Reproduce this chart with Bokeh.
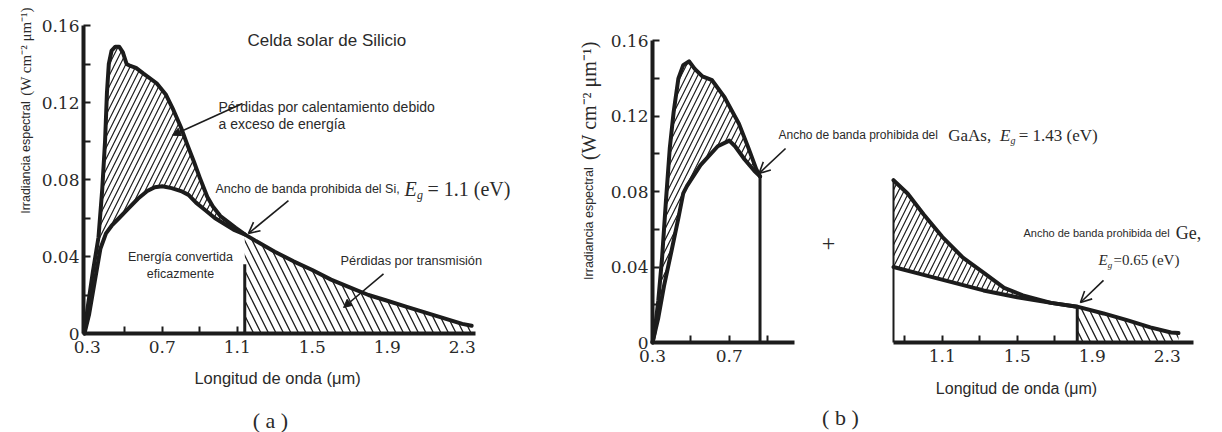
import math

from bokeh.embed import file_html
from bokeh.models import (Arrow, FixedTicker, Label, LinearAxis, NormalHead,
                          OpenHead, Range1d)
from bokeh.plotting import figure
from bokeh.resources import INLINE

# ---------------------------------------------------------------------------
# Spectral irradiance (W cm^-2 um^-1) against wavelength (um)
# ---------------------------------------------------------------------------

# (a) silicon cell: full solar spectrum and the part converted by the cell
si_total_wl = [0.285, 0.30, 0.33, 0.36, 0.38, 0.395, 0.405, 0.415, 0.43, 0.45,
               0.47, 0.49, 0.51, 0.53, 0.56, 0.60, 0.67, 0.72, 0.76, 0.80,
               0.83, 0.87, 0.90, 0.94, 0.97, 1.01, 1.05, 1.09, 1.14, 1.20,
               1.30, 1.40, 1.50, 1.60, 1.70, 1.80, 1.90, 2.00, 2.10, 2.20,
               2.30, 2.35]
si_total_irr = [0.0, 0.012, 0.032, 0.050, 0.075, 0.100, 0.125, 0.140, 0.147, 0.149,
                0.149, 0.146, 0.140, 0.139, 0.138, 0.135, 0.130, 0.124, 0.116, 0.107,
                0.099, 0.089, 0.081, 0.071, 0.066, 0.061, 0.058, 0.055, 0.0515, 0.048,
                0.0425, 0.0375, 0.033, 0.028, 0.024, 0.020, 0.017, 0.014, 0.011, 0.008,
                0.005, 0.004]
si_used_wl = [0.285, 0.31, 0.34, 0.37, 0.40, 0.43, 0.47, 0.52, 0.57, 0.62,
              0.66, 0.70, 0.75, 0.80, 0.84, 0.88, 0.93, 0.98, 1.03, 1.08, 1.14]
si_used_irr = [0.0, 0.010, 0.027, 0.044, 0.052, 0.056, 0.060, 0.065, 0.070, 0.074,
               0.076, 0.0765, 0.0755, 0.074, 0.072, 0.068, 0.064, 0.060, 0.057, 0.054, 0.0515]
SI_CUTOFF = 1.14          # um, Eg = 1.1 eV
SI_CUT_LINE_TOP = 0.036   # height of the cut-off marker line

# (b) GaAs top cell
gaas_total_wl = [0.30, 0.31, 0.33, 0.35, 0.37, 0.39, 0.41, 0.435, 0.46, 0.49,
                 0.52, 0.56, 0.61, 0.675, 0.75, 0.80, 0.84, 0.86]
gaas_total_irr = [0.0, 0.005, 0.022, 0.045, 0.075, 0.103, 0.122, 0.140, 0.147, 0.149,
                  0.145, 0.141, 0.139, 0.130, 0.116, 0.103, 0.092, 0.088]
gaas_used_wl = [0.30, 0.33, 0.36, 0.40, 0.435, 0.46, 0.48, 0.55, 0.64, 0.70,
                0.73, 0.78, 0.83, 0.86]
gaas_used_irr = [0.0, 0.013, 0.030, 0.049, 0.066, 0.079, 0.083, 0.094, 0.104, 0.107,
                 0.104, 0.097, 0.091, 0.088]
GAAS_CUTOFF = 0.86        # um, Eg = 1.43 eV

# (b) Ge bottom cell (receives what GaAs lets through)
ge_total_wl = [0.84, 0.915, 1.00, 1.10, 1.21, 1.32, 1.43, 1.53, 1.68, 1.82,
               1.96, 2.09, 2.21, 2.32, 2.36]
ge_total_irr = [0.086, 0.079, 0.068, 0.056, 0.045, 0.037, 0.029, 0.025, 0.021, 0.019,
                0.0154, 0.0117, 0.008, 0.0053, 0.005]
ge_used_wl = [0.84, 0.97, 1.15, 1.32, 1.50, 1.68, 1.82]
ge_used_irr = [0.040, 0.0366, 0.032, 0.0276, 0.024, 0.021, 0.019]
GE_START = 0.84
GE_CUTOFF = 1.82          # um, Eg = 0.65 eV

# axis ticks
y_ticks = [0.0, 0.04, 0.08, 0.12, 0.16]
y_minor = [0.02, 0.06, 0.10, 0.14]
a_x_labels = [0.3, 0.7, 1.1, 1.5, 1.9, 2.3]
a_x_marks = [0.5, 0.7, 0.9, 1.1]
b1_x_labels = [0.3, 0.7]
b1_x_marks = [0.5, 0.7, 0.9]
b2_x_labels = [1.1, 1.5, 1.9, 2.3]
b2_x_marks = [0.9, 1.1, 1.3, 1.5, 1.7]

INK = "#1c1c1c"
TEXT = "#2a2a2a"
SANS = "Liberation Sans"
SERIF = "DejaVu Serif"
ROMAN = "Liberation Serif"

# ---------------------------------------------------------------------------
# One canvas; every panel gets its own scales, pinned by (value, pixel, px/unit)
# ---------------------------------------------------------------------------
W, H = 1222, 432


def x_span(value, px, per_unit):
    start = value - px / per_unit
    return Range1d(start, start + W / per_unit)


def y_span(value, py, per_unit):
    top = value + py / per_unit
    return Range1d(top - H / per_unit, top)


p = figure(width=W, height=H, x_range=x_span(0.28, 83, 187.5),
           y_range=y_span(0.0, 333, 1925.0), x_axis_type=None, y_axis_type=None,
           output_backend="svg", toolbar_location=None,
           min_border_left=0, min_border_right=0, min_border_top=0, min_border_bottom=0)
p.extra_x_ranges = {"gaas": x_span(0.3, 652, 192.0), "ge": x_span(GE_START, 893, 187.5)}
p.extra_y_ranges = {"b": y_span(0.0, 342, 1887.0)}
p.outline_line_color = None
p.background_fill_color = "white"
p.border_fill_color = "white"
p.xgrid.visible = False
p.ygrid.visible = False

A = dict(x_range_name="default", y_range_name="default")
GA = dict(x_range_name="gaas", y_range_name="b")
GE = dict(x_range_name="ge", y_range_name="b")


def style_axis(ax, labels, marks):
    ax.ticker = FixedTicker(ticks=labels, minor_ticks=marks)
    ax.axis_line_width = 4
    ax.axis_line_color = INK
    ax.major_tick_in = 0
    ax.major_tick_out = 0
    ax.minor_tick_in = 7
    ax.minor_tick_out = 0
    ax.minor_tick_line_width = 2
    ax.minor_tick_line_color = INK
    ax.major_label_text_font = SERIF
    ax.major_label_text_font_size = "17px"
    ax.major_label_text_color = TEXT
    ax.major_label_standoff = 7


def add_y_axis(at, rng):
    ax = LinearAxis(fixed_location=at, bounds=(0, 0.16), **rng)
    style_axis(ax, y_ticks, y_ticks + y_minor)
    ax.major_label_standoff = 4
    ax.major_label_overrides = {t: ("0" if t == 0 else f"{t:.2f}") for t in y_ticks}
    p.add_layout(ax, "left")


def add_x_axis(bounds, labels, marks, rng):
    ax = LinearAxis(fixed_location=0, bounds=bounds, **rng)
    style_axis(ax, labels, marks)
    p.add_layout(ax, "below")


def text(x, y, s, size, rng, font=SANS, align="left", angle=0.0, style="normal"):
    p.add_layout(Label(x=x, y=y, text=s, text_font=font, text_font_size=f"{size}px",
                       text_font_style=style, text_align=align, text_baseline="middle",
                       angle=angle, text_color=TEXT, **rng))


def band_gap(x, y, rest, size, rng, gap=1.0):
    """E_g = ... written with an italic E and a subscript g."""
    kw = dict(x=x, y=y, text_font=ROMAN, text_color=TEXT, text_baseline="middle",
              text_align="left", **rng)
    p.add_layout(Label(text="E", text_font_style="italic", text_font_size=f"{size}px", **kw))
    p.add_layout(Label(text="g", text_font_style="italic",
                       text_font_size=f"{round(size * 0.6)}px",
                       x_offset=size * 0.62, y_offset=-size * 0.3, **kw))
    p.add_layout(Label(text=rest, text_font_size=f"{size}px", x_offset=size * gap, **kw))


def pointer(x0, y0, x1, y1, head, rng):
    p.add_layout(Arrow(x_start=x0, y_start=y0, x_end=x1, y_end=y1, end=head,
                       line_width=1.6, line_color=INK, **rng))


def filled_head():
    return NormalHead(size=8, fill_color=INK, line_color=INK, line_width=1)


def open_head():
    return OpenHead(size=11, line_color=INK, line_width=1.6)


def band(top_x, top_y, low_x, low_y, pattern, scale, rng):
    xs = list(top_x) + list(reversed(low_x))
    ys = list(top_y) + list(reversed(low_y))
    p.patch(xs, ys, fill_color=None, line_color=None, hatch_pattern=pattern,
            hatch_scale=scale, hatch_weight=1.2, hatch_color=INK, **rng)


def tail(wl, irr, start, pattern, scale, rng):
    px = [w for w in wl if w >= start]
    py = [v for w, v in zip(wl, irr) if w >= start]
    p.patch(px + [px[-1], px[0]], py + [0.0, 0.0], fill_color=None, line_color=None,
            hatch_pattern=pattern, hatch_scale=scale, hatch_weight=1.3,
            hatch_color=INK, **rng)


def curve(wl, irr, rng, width=4.0):
    p.line(wl, irr, line_width=width, line_color=INK, line_join="round",
           line_cap="round", **rng)


def marker_line(x, top, rng, width=3):
    p.line([x, x], [0, top], line_width=width, line_color=INK, **rng)


# ---------------------------------------------------------------------------
# (a) Silicon cell
# ---------------------------------------------------------------------------
band(si_total_wl[:29], si_total_irr[:29], si_used_wl, si_used_irr,
     "right_diagonal_line", 11, A)
tail(si_total_wl, si_total_irr, SI_CUTOFF, "left_diagonal_line", 15, A)
curve(si_total_wl, si_total_irr, A)
curve(si_used_wl, si_used_irr, A)
marker_line(SI_CUTOFF, SI_CUT_LINE_TOP, A)

add_y_axis(0.28, A)
add_x_axis((0.28, 2.37), a_x_labels, a_x_marks, A)

text(1.155, 0.152, "Celda solar de Silicio", 17, A)
text(1.0, 0.1175, "Pérdidas por calentamiento debido", 14, A)
text(1.0, 0.109, "a exceso de energía", 14, A)
pointer(1.128, 0.1195, 0.755, 0.103, filled_head(), A)
text(0.984, 0.0753, "Ancho de banda prohibida del Si,", 12.5, A)
band_gap(1.992, 0.0753, "= 1.1 (eV)", 20, A, gap=1.15)
pointer(1.373, 0.069, 1.16, 0.052, open_head(), A)
text(0.797, 0.0395, "Energía convertida", 12.5, A, align="center")
text(0.797, 0.031, "eficazmente", 12.5, A, align="center")
text(1.651, 0.038, "Pérdidas por transmisión", 12.8, A)
pointer(1.88, 0.031, 1.667, 0.0135, filled_head(), A)
text(1.315, -0.0229, "Longitud de onda (μm)", 16.5, A, align="center")
text(1.277, -0.0452, "( a )", 22, A, font=ROMAN, align="center")
text(-0.0293, 0.0914, "Irradiancia espectral", 12.5, A, align="center", angle=math.pi / 2)
text(-0.0293, 0.1465, "(W cm⁻² μm⁻¹)", 15, A, font=ROMAN, align="center", angle=math.pi / 2)

# ---------------------------------------------------------------------------
# (b) GaAs + Ge tandem: two wavelength scales on one irradiance scale
# ---------------------------------------------------------------------------
band(gaas_total_wl, gaas_total_irr, gaas_used_wl, gaas_used_irr,
     "right_diagonal_line", 11, GA)
curve(gaas_total_wl, gaas_total_irr, GA)
curve(gaas_used_wl, gaas_used_irr, GA)
marker_line(GAAS_CUTOFF, gaas_total_irr[-1], GA)

band(ge_total_wl[:10], ge_total_irr[:10], ge_used_wl, ge_used_irr,
     "right_diagonal_line", 11, GE)
tail(ge_total_wl, ge_total_irr, GE_CUTOFF, "left_diagonal_line", 15, GE)
curve(ge_total_wl, ge_total_irr, GE)
curve(ge_used_wl, ge_used_irr, GE)
marker_line(GE_START, ge_total_irr[0], GE, width=2)
marker_line(GE_CUTOFF, ge_total_irr[9], GE)

add_y_axis(0.3, GA)
add_x_axis((0.3, 1.04), b1_x_labels, b1_x_marks, GA)
add_x_axis((GE_START, 2.44), b2_x_labels, b2_x_marks, GE)

text(0.956, 0.1097, "Ancho de banda prohibida del", 12, GA)
text(1.84, 0.1097, "GaAs,", 17, GA, font=ROMAN)
band_gap(2.11, 0.1097, "= 1.43 (eV)", 17, GA, gap=1.1)
pointer(0.993, 0.1028, 0.855, 0.0896, open_head(), GA)
text(1.2167, 0.0525, "+", 24, GA, font=ROMAN, align="center")

text(1.533, 0.0578, "Ancho de banda prohibida del", 11, GE)
text(2.345, 0.0578, "Ge,", 18, GE, font=ROMAN)
band_gap(1.933, 0.0435, "=0.65 (eV)", 15, GE)
pointer(1.96, 0.0329, 1.837, 0.0212, open_head(), GE)

text(1.496, -0.0244, "Longitud de onda (μm)", 16, GE, align="center")
text(0.557, -0.0397, "( b )", 22, GE, font=ROMAN, align="center")
text(-0.0333, 0.063, "Irradiancia espectral", 12.5, GA, align="center", angle=math.pi / 2)
text(-0.0333, 0.1282, "(W cm⁻² μm⁻¹)", 20, GA, font=ROMAN, align="center", angle=math.pi / 2)

open("out.html", "w").write(file_html(p, INLINE))
